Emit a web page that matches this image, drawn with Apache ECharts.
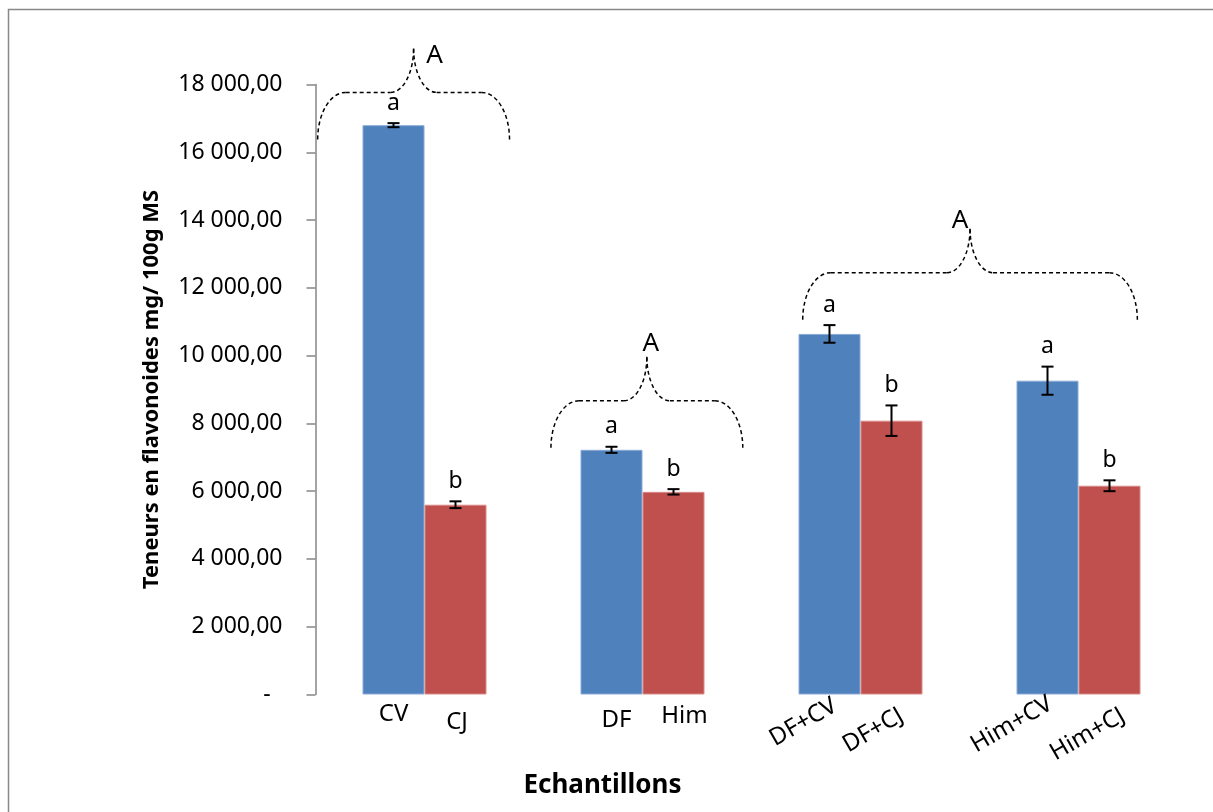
<!DOCTYPE html>
<html><head><meta charset="utf-8">
<script src="https://cdn.jsdelivr.net/npm/echarts@6/dist/echarts.min.js"></script>
<style>html,body{margin:0;padding:0;background:#fff}#c{width:1213px;height:812px}</style>
</head><body><div id="c"></div>
<script>
// ---------- data ----------
const groupNames = ['CV / CJ', 'DF / Him', 'DF+CV / DF+CJ', 'Him+CV / Him+CJ'];
const namesFirst = ['CV', 'DF', 'DF+CV', 'Him+CV'];
const namesSecond = ['CJ', 'Him', 'DF+CJ', 'Him+CJ'];
const valuesFirst = [16800, 7220, 10640, 9260];
const errorsFirst = [60, 90, 260, 415];
const valuesSecond = [5600, 5980, 8080, 6160];
const errorsSecond = [100, 80, 450, 160];
const lettersFirst = ['a', 'a', 'a', 'a'];
const lettersSecond = ['b', 'b', 'b', 'b'];
const yMin = 0, yMax = 18000, yStep = 2000;
// brace annotations (span in category units, level = value of brace ends)
const braceFrom = [-0.49, 0.58, 1.735];
const braceTo = [0.39, 1.46, 3.27];
const braceLevel = [16380, 7280, 11060];
const braceLetters = ['A', 'A', 'A'];

// ---------- styles ----------
const FONT = '"Noto Sans", "Open Sans", sans-serif';
const BLUE = '#4F81BD', RED = '#C0504D';
const BAR_W = 62;
const rotatedGroup = [false, false, true, true];
const nameOffsetFirst = [[0, 19.5], [5, 25.5], [5.5, 9.5], [3, 7.5]];
const nameOffsetSecond = [[1.5, 27.5], [11, 21.5], [10, 19.5], [13.5, 19.5]];
const braceLabelOffset = [[21, 7], [4, -13], [-10, -8]];
const H1 = 47, H2 = 44, RX1 = 28, RX2 = 23, K = 0.552;

function fmt(v) {
  if (v === 0) return '-  ';
  return String(Math.round(v)).replace(/\B(?=(\d{3})+(?!\d))/g, ' ') + ',00';
}

function makeErr(params, api, side, values, errors, letters, names, offs) {
  const i = params.dataIndex;
  const v = values[i], e = errors[i];
  const top = api.coord([i, v + e]);
  const bot = api.coord([i, v - e]);
  const base = api.coord([i, 0]);
  const x = top[0] + side * BAR_W / 2;
  const ls = { stroke: '#000', lineWidth: 2 };
  const rot = rotatedGroup[i];
  return {
    type: 'group',
    children: [
      { type: 'line', shape: { x1: x, y1: top[1], x2: x, y2: bot[1] }, style: ls },
      { type: 'line', shape: { x1: x - 6, y1: top[1], x2: x + 6, y2: top[1] }, style: ls },
      { type: 'line', shape: { x1: x - 6, y1: bot[1], x2: x + 6, y2: bot[1] }, style: ls },
      { type: 'text', x: x, y: top[1] - 20,
        style: { text: letters[i], fill: '#000', fontSize: 23, fontFamily: FONT, align: 'center', verticalAlign: 'middle' } },
      { type: 'text', x: x + offs[i][0], y: base[1] + offs[i][1], rotation: rot ? Math.PI / 6 : 0,
        style: { text: names[i], fill: '#000', fontSize: 24, fontFamily: FONT, align: rot ? 'right' : 'center', verticalAlign: 'middle' } }
    ]
  };
}

function makeBrace(params, api) {
  const k = params.dataIndex;
  const level = braceLevel[k];
  const c0 = api.coord([0, level]);
  const c1 = api.coord([1, level]);
  const band = c1[0] - c0[0];
  const xL = c0[0] + braceFrom[k] * band;
  const xR = c0[0] + braceTo[k] * band;
  const xc = (xL + xR) / 2;
  const yb = c0[1], yt = yb - H1, yp = yt - H2;
  const st = { stroke: '#000', lineWidth: 1.5, lineDash: [4, 3], fill: null };
  return {
    type: 'group',
    children: [
      { type: 'bezierCurve', shape: { x1: xL, y1: yb, cpx1: xL, cpy1: yb - K * H1, cpx2: xL + RX1 - K * RX1, cpy2: yt, x2: xL + RX1, y2: yt }, style: st },
      { type: 'line', shape: { x1: xL + RX1, y1: yt, x2: xc - RX2, y2: yt }, style: st },
      { type: 'bezierCurve', shape: { x1: xc - RX2, y1: yt, cpx1: xc - RX2 + K * RX2, cpy1: yt, cpx2: xc, cpy2: yp + K * H2, x2: xc, y2: yp }, style: st },
      { type: 'bezierCurve', shape: { x1: xc, y1: yp, cpx1: xc, cpy1: yp + K * H2, cpx2: xc + RX2 - K * RX2, cpy2: yt, x2: xc + RX2, y2: yt }, style: st },
      { type: 'line', shape: { x1: xc + RX2, y1: yt, x2: xR - RX1, y2: yt }, style: st },
      { type: 'bezierCurve', shape: { x1: xR - RX1, y1: yt, cpx1: xR - RX1 + K * RX1, cpy1: yt, cpx2: xR, cpy2: yb - K * H1, x2: xR, y2: yb }, style: st },
      { type: 'text', x: xc + braceLabelOffset[k][0], y: yp + braceLabelOffset[k][1],
        style: { text: braceLetters[k], fill: '#000', fontSize: 26, fontFamily: FONT, align: 'center', verticalAlign: 'middle' } }
    ]
  };
}

const chart = echarts.init(document.getElementById('c'), null, { renderer: 'canvas' });
chart.setOption({
  animation: false,
  backgroundColor: '#fff',
  graphic: [
    { type: 'rect', silent: true, shape: { x: 8.5, y: 9.5, width: 1300, height: 900 },
      style: { fill: null, stroke: '#888', lineWidth: 1.5 } }
  ],
  grid: { left: 315.5, right: 25.5, top: 84.5, bottom: 117.5, containLabel: false, outerBoundsMode: 'none' },
  xAxis: {
    type: 'category', data: groupNames, boundaryGap: true,
    axisLine: { show: false }, axisTick: { show: false }, axisLabel: { show: false }, splitLine: { show: false },
    name: 'Echantillons', nameLocation: 'middle', nameGap: 78,
    nameTextStyle: { fontFamily: FONT, fontSize: 26, fontWeight: 'bold', color: '#000', padding: [0, 298, 0, 0] }
  },
  yAxis: {
    type: 'value', min: yMin, max: yMax, interval: yStep,
    axisLine: { show: true, lineStyle: { color: '#868686', width: 1.5 } },
    axisTick: { show: true, inside: false, length: 9, lineStyle: { color: '#868686', width: 1.5 } },
    splitLine: { show: false },
    axisLabel: { margin: 33, fontFamily: FONT, fontSize: 23, color: '#000', formatter: fmt },
    name: 'Teneurs en flavonoides mg/ 100g MS', nameLocation: 'middle', nameGap: 153, nameRotate: 90,
    nameTextStyle: { fontFamily: FONT, fontSize: 22, fontWeight: 'bold', color: '#000' }
  },
  series: [
    { type: 'bar', name: 'first', data: valuesFirst, barWidth: BAR_W, barGap: '0%',
      itemStyle: { color: BLUE, borderColor: '#8AAAD6', borderWidth: 1 } },
    { type: 'bar', name: 'second', data: valuesSecond, barWidth: BAR_W, barGap: '0%',
      itemStyle: { color: RED, borderColor: '#D98A88', borderWidth: 1 } },
    { type: 'custom', coordinateSystem: 'cartesian2d', z: 5, clip: false,
      data: valuesFirst.map((v, i) => [i, v]), encode: { x: 0, y: 1 },
      renderItem: (p, api) => makeErr(p, api, -1, valuesFirst, errorsFirst, lettersFirst, namesFirst, nameOffsetFirst) },
    { type: 'custom', coordinateSystem: 'cartesian2d', z: 5, clip: false,
      data: valuesSecond.map((v, i) => [i, v]), encode: { x: 0, y: 1 },
      renderItem: (p, api) => makeErr(p, api, 1, valuesSecond, errorsSecond, lettersSecond, namesSecond, nameOffsetSecond) },
    { type: 'custom', coordinateSystem: 'cartesian2d', z: 6, clip: false,
      data: braceLevel.map((l, k) => [k, l]), encode: { x: 0, y: 1 },
      renderItem: makeBrace }
  ]
});
</script>
</body></html>
